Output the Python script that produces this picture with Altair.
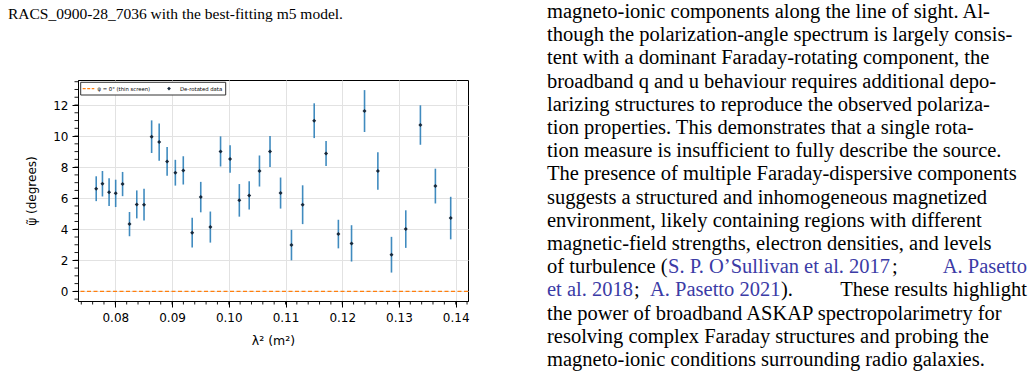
import altair as alt
import pandas as pd
import numpy as np

# ---- data ----
lam2 = [0.07663, 0.07773, 0.07890, 0.08006, 0.08128, 0.08250, 0.08378, 0.08506,
        0.08640, 0.08773, 0.08913, 0.09058, 0.09198, 0.09355, 0.09506, 0.09675,
        0.09855, 0.10023, 0.10186, 0.10360, 0.10541, 0.10727, 0.10913, 0.11105,
        0.11302, 0.11506, 0.11715, 0.11932, 0.12164, 0.12393, 0.12628, 0.12868,
        0.13120, 0.13378, 0.13642, 0.13912]
psi = [6.61, 6.93, 6.39, 6.31, 6.91, 4.33, 5.60, 5.58,
       9.96, 9.61, 8.37, 7.64, 7.79, 3.78, 6.07, 4.14,
       9.01, 8.52, 5.86, 6.18, 7.75, 9.01, 6.33, 2.98,
       5.58, 10.99, 8.88, 3.69, 3.09, 11.61, 7.75, 2.36,
       4.01, 10.71, 6.78, 4.72]
err = [0.80, 0.82, 0.90, 0.88, 0.78, 0.78, 0.90, 1.02,
       1.05, 1.20, 0.93, 0.83, 0.91, 0.96, 0.98, 1.00,
       0.97, 0.89, 1.05, 0.91, 1.00, 1.00, 1.00, 0.98,
       1.25, 1.12, 0.80, 0.92, 1.17, 1.35, 1.21, 1.15,
       1.21, 1.27, 1.12, 1.37]
x_ticks = [0.08, 0.09, 0.10, 0.11, 0.12, 0.13, 0.14]
y_ticks = [0, 2, 4, 6, 8, 10, 12]
x_minor = [round(v, 3) for v in np.arange(0.074, 0.1425, 0.002)]
y_minor = [round(v, 1) for v in np.arange(-0.5, 13.6, 0.5)]

df = pd.DataFrame({"lam2": lam2, "psi": psi, "err": err})
df["lo"] = df["psi"] - df["err"]
df["hi"] = df["psi"] + df["err"]

W, H = 390, 221
OX, OY = 78, 80  # plot origin on the page

xscale = alt.Scale(domain=[0.07342, 0.14217], nice=False, zero=False)
yscale = alt.Scale(domain=[-0.62, 13.61], nice=False, zero=False)

FONT = "DejaVu Sans"

xaxis = alt.Axis(values=x_ticks, format=".2f", title="λ² (m²)", grid=True,
                 gridColor="#e2e2e2", gridWidth=1, tickSize=6, tickColor="black",
                 domainColor="black", labelFont=FONT, labelFontSize=12,
                 labelColor="black", titleFont=FONT, titleFontSize=12.5,
                 titleFontWeight="normal", titleColor="black", labelPadding=5,
                 titlePadding=11)
yaxis = alt.Axis(values=y_ticks, format="d", title="ψ̃ (degrees)", grid=True,
                 gridColor="#e2e2e2", gridWidth=1, tickSize=6, tickColor="black",
                 domainColor="black", labelFont=FONT, labelFontSize=12,
                 labelColor="black", titleFont=FONT, titleFontSize=12,
                 titleFontWeight="normal", titleColor="black", labelPadding=4,
                 titlePadding=14)

base = alt.Chart(df)

bars = base.mark_rule(color="#1f77b4", strokeWidth=1.6, opacity=0.85).encode(
    x=alt.X("lam2:Q", scale=xscale, axis=xaxis),
    y=alt.Y("lo:Q", scale=yscale, axis=yaxis),
    y2="hi:Q",
)
pts = base.mark_point(shape="diamond", filled=True, color="#17283a", size=16,
                      opacity=1).encode(
    x=alt.X("lam2:Q", scale=xscale, axis=xaxis),
    y=alt.Y("psi:Q", scale=yscale, axis=yaxis),
)
zero = alt.Chart(pd.DataFrame({"z": [0]})).mark_rule(
    color="#ff7f0e", strokeDash=[4, 2.5], strokeWidth=1.3).encode(
    y=alt.Y("z:Q", scale=yscale, axis=yaxis))

xmin = alt.Chart(pd.DataFrame({"m": x_minor})).mark_rule(
    color="black", strokeWidth=0.9).encode(
    x=alt.X("m:Q", scale=xscale, axis=xaxis),
    y=alt.value(H), y2=alt.value(H + 3.5))
ymin = alt.Chart(pd.DataFrame({"m": y_minor})).mark_rule(
    color="black", strokeWidth=0.9).encode(
    y=alt.Y("m:Q", scale=yscale, axis=yaxis),
    x=alt.value(0), x2=alt.value(-3.5))

one = pd.DataFrame({"a": [0]})
# legend (drawn inside plot, top-left)
leg_box = alt.Chart(one).mark_rect(fill="white", stroke="#333333",
                                   strokeWidth=1).encode(
    x=alt.value(2.7), x2=alt.value(147.7), y=alt.value(2.3), y2=alt.value(15))
leg_line = alt.Chart(one).mark_rule(color="#ff7f0e", strokeDash=[3, 1.5],
                                    strokeWidth=1.2).encode(
    x=alt.value(4.7), x2=alt.value(16.3), y=alt.value(8.6))
leg_t1 = alt.Chart(one).mark_text(text="ψ̃ = 0° (thin screen)", font=FONT,
                                  fontSize=5.3, align="left", baseline="middle",
                                  color="black").encode(
    x=alt.value(19.5), y=alt.value(8.6))
leg_pt = alt.Chart(one).mark_point(shape="diamond", filled=True,
                                   color="#17283a", size=14, opacity=1).encode(
    x=alt.value(91), y=alt.value(8.6))
leg_t2 = alt.Chart(one).mark_text(text="De-rotated data", font=FONT,
                                  fontSize=5.3, align="left", baseline="middle",
                                  color="black").encode(
    x=alt.value(102), y=alt.value(8.6))

# surrounding page text
SERIF = "Liberation Serif"
BLUE = "#3b3ba6"
caption = "RACS_0900-28_7036 with the best-fitting m5 model."
right_lines = [
    "magneto-ionic components along the line of sight.  Al-",
    "though the polarization-angle spectrum is largely consis-",
    "tent with a dominant Faraday-rotating component, the",
    "broadband q and u behaviour requires additional depo-",
    "larizing structures to reproduce the observed polariza-",
    "tion properties.  This demonstrates that a single rota-",
    "tion measure is insufficient to fully describe the source.",
    "The presence of multiple Faraday-dispersive components",
    "suggests a structured and inhomogeneous magnetized",
    "environment, likely containing regions with different",
    "magnetic-field strengths, electron densities, and levels",
    None,
    None,
    "the power of broadband ASKAP spectropolarimetry for",
    "resolving complex Faraday structures and probing the",
    "magneto-ionic conditions surrounding radio galaxies.",
]
# (text, colour, x, align)
line12 = [("of turbulence (", "black", 547, "left"),
          ("S. P. O’Sullivan et al. 2017", BLUE, 668, "left"),
          (";", "black", 892, "left"),
          ("A. Pasetto", BLUE, 1027, "right")]
line13 = [("et al. 2018", BLUE, 547, "left"),
          (";", "black", 634, "left"),
          ("A. Pasetto 2021", BLUE, 650, "left"),
          (").", "black", 781, "left"),
          ("These results highlight", "black", 1027, "right")]

FS = 20.5
BASE0 = 18.0
STEP = 23.2


def txt(s, x_abs, y_abs, color="black", size=FS, align="left"):
    return alt.Chart(one).mark_text(text=s, font=SERIF, fontSize=size,
                                    align=align, baseline="alphabetic",
                                    color=color).encode(
        x=alt.value(x_abs - OX), y=alt.value(y_abs - OY))


texts = [txt(caption, 8, 19, size=15.5)]
for i, s in enumerate(right_lines):
    yb = BASE0 + i * STEP
    if s is not None:
        texts.append(txt(s, 547, yb))
for s, c, xx, al in line12:
    texts.append(txt(s, xx, BASE0 + 11 * STEP, c, align=al))
for s, c, xx, al in line13:
    texts.append(txt(s, xx, BASE0 + 12 * STEP, c, align=al))

chart = alt.layer(
    zero, bars, pts, xmin, ymin, leg_box, leg_line, leg_t1, leg_pt, leg_t2,
    *texts
).properties(
    width=W, height=H,
    padding={"left": OX, "top": OY, "right": 1035 - OX - W, "bottom": 377 - OY - H},
    autosize=alt.AutoSizeParams(type="none"),
    background="white",
).configure_view(stroke="black", strokeWidth=1)

chart.save("out.html", embed_options={"renderer": "svg", "actions": False})
